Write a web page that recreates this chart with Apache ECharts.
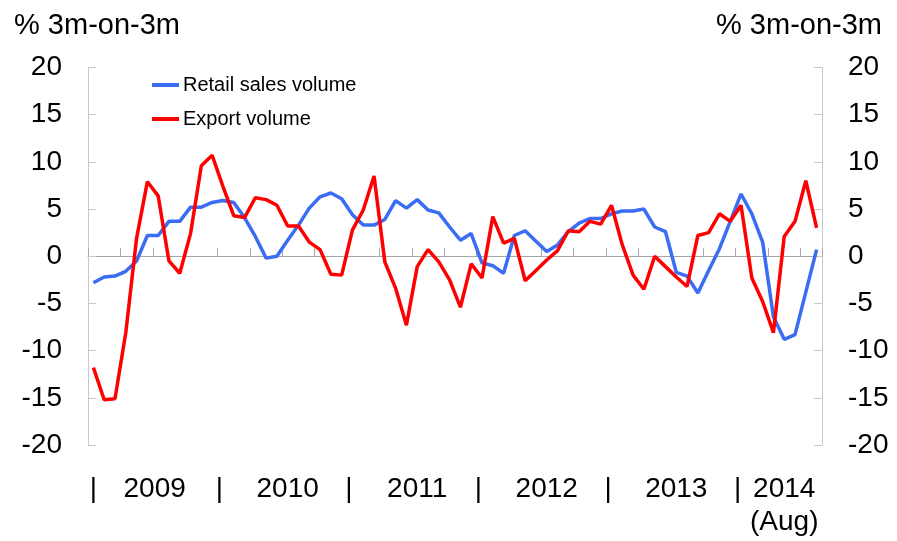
<!DOCTYPE html>
<html><head><meta charset="utf-8">
<script src="https://cdn.jsdelivr.net/npm/echarts@6/dist/echarts.min.js"></script>
<style>html,body{margin:0;padding:0;background:#fff}#c{width:897px;height:541px}</style>
</head><body><div id="c"></div>
<script>
// Monthly, Jan 2009 .. Aug 2014
const months = (function(){const a=[];for(let y=2009;y<=2014;y++){for(let m=1;m<=12;m++){if(y===2014&&m>8)break;a.push(y+'-'+(m<10?'0'+m:m));}}return a;})();

const retailSales = [
  -2.8, -2.2, -2.1, -1.6, -0.5, 2.2, 2.2, 3.7, 3.7, 5.2, 5.2, 5.7,
  5.9, 5.7, 4.1, 2.1, -0.2, 0.0, 1.7, 3.3, 5.1, 6.3, 6.7, 6.1,
  4.4, 3.3, 3.3, 3.9, 5.9, 5.1, 6.0, 4.9, 4.6, 3.1, 1.7, 2.4,
  -0.7, -1.0, -1.8, 2.2, 2.7, 1.6, 0.5, 1.2, 2.6, 3.5, 4.0, 4.0,
  4.5, 4.8, 4.8, 5.0, 3.1, 2.6, -1.7, -2.1, -3.9, -1.5, 0.8, 3.7,
  6.6, 4.5, 1.5, -6.4, -8.8, -8.3, -3.8, 0.7
];
const exportVolume = [
  -11.8, -15.2, -15.1, -8.1, 1.9, 7.9, 6.4, -0.5, -1.8, 2.4, 9.6, 10.7,
  7.4, 4.3, 4.1, 6.2, 6.0, 5.4, 3.2, 3.2, 1.5, 0.7, -1.9, -2.0,
  2.8, 4.9, 8.5, -0.6, -3.4, -7.3, -1.1, 0.7, -0.6, -2.5, -5.4, -0.8,
  -2.3, 4.2, 1.4, 1.9, -2.6, -1.5, -0.4, 0.6, 2.7, 2.6, 3.7, 3.4,
  5.4, 1.2, -2.0, -3.5, 0.0, -1.1, -2.2, -3.2, 2.2, 2.5, 4.5, 3.7,
  5.4, -2.3, -4.8, -8.1, 2.1, 3.7, 8.0, 3.0
];
const seriesNames = ['Retail sales volume', 'Export volume'];
const xLabelMonths = ['2009-01','2009-07','2010-01','2010-07','2011-01','2011-07','2012-01','2012-07','2013-01','2013-07','2014-01','2014-05'];
const xLabelTexts  = ['|','2009','|','2010','|','2011','|','2012','|','2013','|','2014\n(Aug)'];
const axisTitle = '% 3m-on-3m';

const FONT = 'Liberation Sans, Arial, sans-serif';
const labelMap = {};
xLabelMonths.forEach((m,k)=>labelMap[m]=xLabelTexts[k]);

const chart = echarts.init(document.getElementById('c'), null, {renderer:'canvas'});
chart.setOption({
  animation:false,
  backgroundColor:'#fff',
  title:[
    {text:axisTitle,left:9,top:6,textStyle:{fontFamily:FONT,fontSize:29,fontWeight:'normal',color:'#000'}},
    {text:axisTitle,right:10,top:6,textStyle:{fontFamily:FONT,fontSize:29,fontWeight:'normal',color:'#000'}}
  ],
  legend:{
    left:147, top:70, orient:'vertical', itemGap:14, itemWidth:27, itemHeight:4, icon:'rect',
    textStyle:{fontFamily:FONT,fontSize:20,color:'#000',padding:[0,0,0,-1]},
    data:seriesNames
  },
  grid:{left:88,right:75,top:67.5,bottom:96},
  xAxis:[
    {type:'category',data:months,boundaryGap:true,
     axisLine:{onZero:true,lineStyle:{color:'#a6a6a6',width:1}},
     axisTick:{show:true,inside:true,length:8,interval:2,lineStyle:{color:'#a6a6a6'}},
     axisLabel:{show:false},splitLine:{show:false}},
    {type:'category',data:months,boundaryGap:true,position:'bottom',
     axisLine:{show:false,onZero:false},axisTick:{show:false},
     axisLabel:{show:true,interval:0,margin:28,fontFamily:FONT,fontSize:28,color:'#000',lineHeight:33,
       formatter:v=>{const t=labelMap[v]||'';if(v==='2009-01')return t;return t==='|'?'{bar|'+t+'}':(v==='2009-07'?'{first|'+t+'}':t);},
       rich:{bar:{fontFamily:FONT,fontSize:28,color:'#000',padding:[0,7,0,0]},
             first:{fontFamily:FONT,fontSize:28,color:'#000',padding:[0,7,0,0]}}},
     splitLine:{show:false}}
  ],
  yAxis:[
    {type:'value',min:-20,max:20,interval:5,position:'left',
     axisLine:{show:true,lineStyle:{color:'#c8c8c8'}},
     axisTick:{show:true,inside:true,length:8,lineStyle:{color:'#c8c8c8'}},
     axisLabel:{margin:26,fontFamily:FONT,fontSize:28,color:'#000'},
     splitLine:{show:false}},
    {type:'value',min:-20,max:20,interval:5,position:'right',
     axisLine:{show:true,lineStyle:{color:'#c8c8c8'}},
     axisTick:{show:true,inside:true,length:8,lineStyle:{color:'#c8c8c8'}},
     axisLabel:{margin:26,fontFamily:FONT,fontSize:28,color:'#000'},
     splitLine:{show:false}}
  ],
  series:[
    {name:seriesNames[0],type:'line',data:retailSales,xAxisIndex:0,yAxisIndex:0,
     symbol:'none',lineStyle:{color:'#3a6cf4',width:3.5},itemStyle:{color:'#3a6cf4'}},
    {name:seriesNames[1],type:'line',data:exportVolume,xAxisIndex:0,yAxisIndex:0,
     symbol:'none',lineStyle:{color:'#ff0000',width:3.5},itemStyle:{color:'#ff0000'},z:3}
  ]
});
</script></body></html>
